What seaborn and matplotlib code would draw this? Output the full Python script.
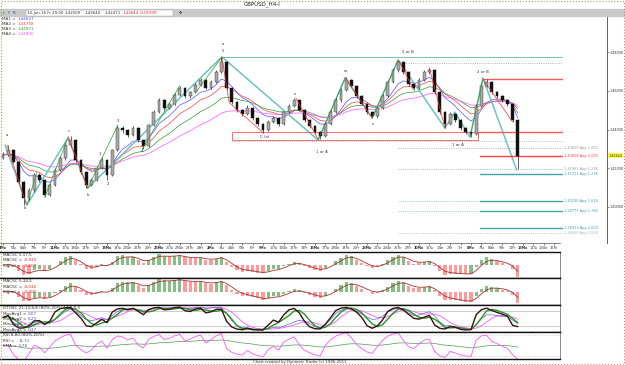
#%%
import numpy as np
import pandas as pd
import matplotlib
matplotlib.use("Agg")
import matplotlib.pyplot as plt
import matplotlib.transforms as mtrans
from matplotlib.patches import Rectangle
import seaborn as sns

#%% price bars (two bars per trading day)
first_open = 1.4255
closes = [1.4269, 1.4295, 1.4233, 1.4130, 1.4047, 1.4088, 1.4165, 1.4140, 1.4062, 1.4114,
          1.4191, 1.4253, 1.4320, 1.4346, 1.4243, 1.4181, 1.4114, 1.4140, 1.4202, 1.4243,
          1.4165, 1.4295, 1.4408, 1.4398, 1.4372, 1.4408, 1.4346, 1.4315, 1.4424, 1.4491,
          1.4553, 1.4512, 1.4532, 1.4579, 1.4615, 1.4574, 1.4594, 1.4631, 1.4657, 1.4615,
          1.4646, 1.4698, 1.4750, 1.4615, 1.4543, 1.4501, 1.4481, 1.4512, 1.4460, 1.4429,
          1.4398, 1.4439, 1.4460, 1.4429, 1.4491, 1.4522, 1.4553, 1.4501, 1.4450, 1.4419,
          1.4388, 1.4367, 1.4429, 1.4491, 1.4553, 1.4605, 1.4657, 1.4626, 1.4574, 1.4532,
          1.4491, 1.4470, 1.4512, 1.4574, 1.4646, 1.4708, 1.4750, 1.4698, 1.4636, 1.4615,
          1.4657, 1.4698, 1.4708, 1.4594, 1.4491, 1.4429, 1.4481, 1.4450, 1.4408, 1.4388,
          1.4377, 1.4522, 1.4626, 1.4646, 1.4594, 1.4574, 1.4553, 1.4532, 1.4450, 1.4264]
highs = [1.4285, 1.4318, 1.4300, 1.4240, 1.4135, 1.4098, 1.4178, 1.4175, 1.4146, 1.4122,
         1.4200, 1.4262, 1.4335, 1.4365, 1.4352, 1.4250, 1.4186, 1.4152, 1.4210, 1.4256,
         1.4248, 1.4302, 1.4425, 1.4420, 1.4405, 1.4418, 1.4412, 1.4352, 1.4430, 1.4500,
         1.4565, 1.4560, 1.4542, 1.4588, 1.4628, 1.4620, 1.4602, 1.4640, 1.4668, 1.4662,
         1.4655, 1.4710, 1.4776, 1.4755, 1.4620, 1.4550, 1.4508, 1.4525, 1.4518, 1.4465,
         1.4435, 1.4448, 1.4470, 1.4466, 1.4498, 1.4530, 1.4565, 1.4560, 1.4508, 1.4456,
         1.4425, 1.4395, 1.4438, 1.4500, 1.4562, 1.4615, 1.4672, 1.4663, 1.4632, 1.4580,
         1.4538, 1.4498, 1.4520, 1.4582, 1.4655, 1.4718, 1.4762, 1.4756, 1.4704, 1.4642,
         1.4665, 1.4706, 1.4720, 1.4712, 1.4600, 1.4496, 1.4490, 1.4488, 1.4456, 1.4415,
         1.4395, 1.4530, 1.4640, 1.4662, 1.4652, 1.4600, 1.4580, 1.4560, 1.4538, 1.4456]
lows = [1.4250, 1.4262, 1.4225, 1.4120, 1.4010, 1.4035, 1.4080, 1.4128, 1.4050, 1.4055,
        1.4108, 1.4185, 1.4245, 1.4310, 1.4235, 1.4172, 1.4098, 1.4106, 1.4134, 1.4195,
        1.4140, 1.4160, 1.4290, 1.4385, 1.4360, 1.4365, 1.4338, 1.4300, 1.4310, 1.4418,
        1.4485, 1.4503, 1.4505, 1.4525, 1.4572, 1.4565, 1.4566, 1.4588, 1.4625, 1.4608,
        1.4610, 1.4640, 1.4692, 1.4605, 1.4532, 1.4490, 1.4470, 1.4475, 1.4452, 1.4418,
        1.4385, 1.4392, 1.4432, 1.4420, 1.4422, 1.4485, 1.4515, 1.4495, 1.4442, 1.4410,
        1.4378, 1.4350, 1.4360, 1.4422, 1.4485, 1.4545, 1.4598, 1.4618, 1.4566, 1.4525,
        1.4482, 1.4458, 1.4462, 1.4505, 1.4568, 1.4640, 1.4700, 1.4690, 1.4628, 1.4605,
        1.4608, 1.4650, 1.4690, 1.4585, 1.4482, 1.4408, 1.4422, 1.4442, 1.4400, 1.4378,
        1.4361, 1.4370, 1.4515, 1.4618, 1.4585, 1.4565, 1.4545, 1.4522, 1.4440, 1.4196]

# trading days on the date scale (Apr 4 .. Jun 16)
day_numbers = [4, 5, 6, 7, 8, 11, 12, 13, 14, 15, 18, 19, 20, 21, 22, 25, 26, 27, 28, 29,
               2, 3, 4, 5, 6, 9, 10, 11, 12, 13, 16, 17, 18, 19, 20, 23, 24, 25, 26, 27,
               30, 31, 1, 2, 3, 6, 7, 8, 9, 10, 13, 14, 15, 16]
weekday_names = ["Mo", "Tu", "We", "Th", "Fr"]

# wave drawings (bar index, price)
teal_x = [0.4, 4.6, 12.5, 16.3, 42.1, 60.6, 65.8, 71.0, 76.0, 85.0, 86.9, 89.8, 92.3, 98.8]
teal_y = [1.4320, 1.4010, 1.4357, 1.4098, 1.4776, 1.4346, 1.4667, 1.4460, 1.4760, 1.4408,
          1.4491, 1.4362, 1.4667, 1.4191]
red_x = [0.8, 4.4, np.nan, 12.5, 16.3, np.nan, 42.1, 43.5, 50.0, np.nan, 56.3, 60.6, np.nan,
         65.8, 71.0, np.nan, 76.0, 79.0, np.nan, 82.0, 85.0, np.nan, 92.3, 98.0]
red_y = [1.4318, 1.4020, np.nan, 1.4365, 1.4098, np.nan, 1.4776, 1.4540, 1.4385, np.nan,
         1.4565, 1.4350, np.nan, 1.4672, 1.4458, np.nan, 1.4762, 1.4605, np.nan, 1.4720,
         1.4408, np.nan, 1.4662, 1.4440]
green_x = [4.6, 6.5, np.nan, 8.0, 12.5, np.nan, 16.3, 22.1, np.nan, 26.8, 34.0, np.nan,
           37.0, 42.1, np.nan, 60.6, 65.8, np.nan, 71.0, 76.0, np.nan, 89.8, 92.3]
green_y = [1.4010, 1.4178, np.nan, 1.4050, 1.4357, np.nan, 1.4098, 1.4425, np.nan, 1.4300,
           1.4628, np.nan, 1.4590, 1.4776, np.nan, 1.4346, 1.4667, np.nan, 1.4460, 1.4760,
           np.nan, 1.4361, 1.4662]

wave_text = ["a", "b", "c", "b", "1", "2", "3", "4", "a", "5", "C (a)", "x", "1 or A", "w",
             "x", "2 or B", "1 or A", "2 or B"]
wave_text_x = [0.8, 4.2, 12.6, 16.4, 18.7, 20.2, 22.1, 26.7, 42.3, 42.3, 50.4, 56.2, 61.3,
               65.8, 71.2, 77.9, 87.5, 92.3]
wave_text_y = [1.4372, 1.3995, 1.4392, 1.4060, 1.4272, 1.4118, 1.4445, 1.4292, 1.4845,
               1.4808, 1.4362, 1.4585, 1.4282, 1.4705, 1.4430, 1.4803, 1.4318, 1.4700]

# projection levels: price, start bar, colour, style, label
proj_price = [1.4776, 1.4743, 1.4660, 1.4388, 1.4341, 1.43050, 1.42658, 1.41961, 1.41713,
              1.40290, 1.40290, 1.39771, 1.39771, 1.38913, 1.38660]
proj_start = [42.1, 75.4, 92.3, 91.3, 44.0, 76.0, 91.7, 76.0, 91.7, 76.0, 91.7, 76.0, 91.7,
              91.7, 76.0]
proj_color = ["#5fb5b5", "#9a9a9a", "#ff5a5a", "#ff5a5a", "#8fb8b8", "#9a9a9a", "#ff4040",
              "#9a9a9a", "#3fa5a5", "#6fb8b8", "#3fa5a5", "#6fb8b8", "#3fa5a5", "#3fa5a5",
              "#9ab8b8"]
proj_style = ["-", ":", "-", "-", ":", ":", "-", ":", "-", ":", "-", ":", "-", "-", ":"]
proj_label = ["", "", "", "", "", "1,43050 App 1,000", "1,42658 App 1,000", "1,41961 App 1,236",
              "1,41713 App 1,236", "", "1,40290 App 1,618", "", "1,39771 App 1,786",
              "1,38913 App 2,000", "1,38660 App 2,000"]

ma_spans = [7, 11, 18, 30]
ma_colors = ["#5050ff", "#ff4040", "#2f9a2f", "#ff55ff"]
ma_values = ["1,44627", "1,44758", "1,44971", "1,44906"]
last_price = 1.42644

#%% helpers
W, H = 625, 365
def box(x0, y0, x1, y1):
    return [x0 / W, 1 - y1 / H, (x1 - x0) / W, (y1 - y0) / H]

px_bar = 5.2
def bar_at(px):
    return (px - 3) / px_bar

def price_at(py):
    return 1.40 + (207 - py) * 0.000517

sns.set_theme(style="white")
plt.rcParams["font.family"] = ["DejaVu Sans"]
fs = 3.0

c = pd.Series(closes)
o = pd.Series([first_open] + closes[:-1])
hi = pd.Series(highs)
lo = pd.Series(lows)
x = np.arange(len(closes))

fig = plt.figure(figsize=(6.25, 3.65), dpi=100)
fig.patch.set_facecolor("white")

# title bar and info row
fig.text(262 / W, 1 - 4.5 / H, "GBPUSD_H4-I", fontsize=4, ha="center", va="center", color="#202020")
fig.patches.append(Rectangle((0, 1 - 16 / H), 1, 7 / H, transform=fig.transFigure,
                             color="#c9c9c9", zorder=0))
fig.patches.append(Rectangle((26 / W, 1 - 15.5 / H), 147 / W, 5.5 / H, transform=fig.transFigure,
                             facecolor="white", edgecolor="#999999", lw=0.3, zorder=1))
info = [(3, "L", "#208020"), (8, "F", "#208020"), (13, "R", "#2040c0"),
        (27, "10-Jun-16 Fr 20:00", "#303030"), (65, "1,42509", "#303030"),
        (85, "1,43644", "#303030"), (105, "1,42471", "#303030"),
        (123, "1,42644", "#e02020"), (140, "-0,01939", "#e02020"), (179, "✥", "#202020")]
for px, t, col in info:
    fig.text(px / W, 1 - 12.8 / H, t, fontsize=2.8, color=col, va="center", zorder=3)

#%% main price panel
ax = fig.add_axes(box(0, 16, 607, 243))
xl = bar_at(0)
ax.set_xlim(xl, bar_at(607))
ax.set_ylim(price_at(243), price_at(16))

for span, col in zip(ma_spans, ma_colors):
    sns.lineplot(x=x, y=c.ewm(span=span, adjust=False).mean(), ax=ax, color=col, lw=0.5)

up = (c >= o).values
ax.vlines(x, lo, hi, color="#222222", lw=0.5, zorder=3)
ax.bar(x[up], (c - o)[up], bottom=o[up], width=0.55, color="#a9a9a9",
       edgecolor="#333333", lw=0.3, zorder=4)
ax.bar(x[~up], (c - o)[~up], bottom=o[~up], width=0.55, color="#111111",
       edgecolor="#111111", lw=0.3, zorder=4)

ax.plot(teal_x, teal_y, color="#6cc3c3", lw=1.1, zorder=2)
ax.plot(red_x, red_y, color="#ff3030", lw=0.5, zorder=5)
ax.plot(green_x, green_y, color="#30a030", lw=0.5, zorder=5)

xend = bar_at(562)
for p, s, col, ls, lab in zip(proj_price, proj_start, proj_color, proj_style, proj_label):
    lw = 1.0 if (ls == "-" and s > 90) else 0.6
    ax.plot([s, xend], [p, p], color=col, ls=ls, lw=lw, zorder=2)
    if lab:
        ax.text(xend + 0.3, p, lab, fontsize=2.5, color=col, va="center")

ax.add_patch(Rectangle((bar_at(232), price_at(140)), bar_at(478) - bar_at(232),
                       price_at(132) - price_at(140), fill=False, ec="#ff5050", lw=0.6, zorder=2))

for t, tx, ty in zip(wave_text, wave_text_x, wave_text_y):
    ax.text(tx, ty, t, fontsize=2.8, color="#303050", ha="center", va="center", zorder=6)

for k, (v, col) in enumerate(zip(ma_values, ma_colors)):
    yy = 1 - (3 + 5 * k) / 227
    ax.text(2 / 607, yy, f"MA{k + 1} =", transform=ax.transAxes, fontsize=fs, color="#303030", va="center")
    ax.text(18 / 607, yy, v, transform=ax.transAxes, fontsize=fs, color=col, va="center")

ax.yaxis.tick_right()
ticks = [1.40, 1.42, 1.44, 1.46, 1.48]
ax.set_yticks(ticks)
ax.set_yticklabels([f"{t:.5f}".replace(".", ",") for t in ticks])
ax.tick_params(axis="y", right=True, direction="out", length=1.2, width=0.4,
               labelsize=2.4, pad=0.6, colors="#333333")
ax.set_xticks([])
for s in ["left", "top", "bottom"]:
    ax.spines[s].set_visible(False)
ax.spines["right"].set_color("#6a6050")
ax.spines["right"].set_linewidth(0.7)
trans = mtrans.blended_transform_factory(ax.transAxes, ax.transData)
ax.text(1.002, last_price, "1,42644", transform=trans, fontsize=2.4, va="center",
        bbox=dict(boxstyle="square,pad=0.15", fc="#ffff40", ec="none"), zorder=7)

#%% date scale
xr = bar_at(560)
axd = fig.add_axes(box(0, 243, 560, 252))
axd.set_xlim(xl, xr)
axd.set_ylim(0, 1)
day_pos = [2 * k for k in range(len(day_numbers))]
axd.set_xticks(day_pos)
axd.set_xticklabels([])
axd.tick_params(axis="x", top=True, bottom=False, direction="in", length=1.5, width=0.4)
axd.set_yticks([])
for k, (dpos, dn) in enumerate(zip(day_pos, day_numbers)):
    wd = weekday_names[k % 5]
    axd.text(dpos, 0.4, f"{dn}{wd}", fontsize=2.4, ha="center", va="center",
             fontweight="bold" if wd == "Mo" else "normal", color="#303030")
for s in ["left", "right", "bottom"]:
    axd.spines[s].set_visible(False)
axd.spines["top"].set_linewidth(0.5)
axd.spines["top"].set_color("#555555")
axd.patch.set_alpha(0)

#%% indicator panels
def panel(y0, y1):
    a = fig.add_axes(box(0, y0, 560, y1))
    a.set_xlim(xl, xr)
    a.set_xticks([])
    a.set_yticks([])
    a.spines["left"].set_visible(False)
    for s in ["top", "bottom"]:
        a.spines[s].set_color("#111111")
        a.spines[s].set_linewidth(1.0)
    a.spines["right"].set_color("#777777")
    a.spines["right"].set_linewidth(0.6)
    return a

def header(a, lines):
    for k, parts in enumerate(lines):
        for px, t, col in parts:
            a.text(px / 560, 0.88 - k * 0.2, t, transform=a.transAxes, fontsize=fs,
                   color=col, va="center")

def ema(s, n):
    return s.ewm(span=n, adjust=False).mean()

def macd_panel(a, fast, slow, sig):
    m = ema(c, fast) - ema(c, slow)
    sg = ema(m, sig)
    cols = np.where(m >= sg, "#86bf86", "#ff9a9a")
    a.bar(x, m, width=0.6, color=cols, lw=0)
    sns.lineplot(x=x, y=sg, ax=a, color="#a83030", lw=0.6)
    lim = np.abs(m).max() * 1.1
    a.set_ylim(-lim, lim)

a1 = panel(252, 278)
macd_panel(a1, 3, 9, 3)
header(a1, [[(3, "MACSC 5,17,5", "#303030")],
            [(3, "MACSC =", "#303030"), (24, "-0,930", "#e02020")],
            [(3, "Signal =", "#303030"), (24, "-0,607", "#e02020")]])

a2 = panel(278, 305)
macd_panel(a2, 3, 14, 3)
header(a2, [[(3, "MACSC 5,34,5", "#303030")],
            [(3, "MACSC =", "#303030"), (24, "-0,032", "#e02020")],
            [(3, "Signal =", "#303030"), (24, "-0,006", "#e02020")]])

# DT oscillator (stochastic)
a3 = panel(305, 332)
def stoch(n):
    ll = lo.rolling(n, min_periods=1).min()
    hh = hi.rolling(n, min_periods=1).max()
    return 100 * (c - ll) / (hh - ll)
fast_k = ema(stoch(7), 2)
slow_k = fast_k.rolling(3, min_periods=1).mean()
long_k = ema(stoch(14), 3)
long_d = long_k.rolling(4, min_periods=1).mean()
a3.axhline(80, color="#c4c4c4", lw=0.6)
a3.axhline(20, color="#c4c4c4", lw=0.6)
sns.lineplot(x=x, y=long_d, ax=a3, color="#ff55ff", lw=0.6)
sns.lineplot(x=x, y=long_k, ax=a3, color="#6060d0", lw=0.5)
sns.lineplot(x=x, y=slow_k, ax=a3, color="#1f9a1f", lw=1.0)
sns.lineplot(x=x, y=fast_k, ax=a3, color="#3a1010", lw=1.0)
a3.set_ylim(-4, 104)
header(a3, [[(3, "DTOSC 21,13,8,8 (80%-20%) 14,8,5,3", "#303030")],
            [(3, "MovAvg1 =", "#303030"), (28, "0,07", "#5050c0")],
            [(3, "MovAvg2 =", "#303030"), (28, "6,29", "#5050c0")],
            [(3, "MovAvg3 =", "#303030"), (28, "1,13", "#5050c0")],
            [(3, "MovAvg4 =", "#303030"), (28, "0,37", "#5050c0")]])

# RSI
a4 = panel(332, 359)
d = c.diff().fillna(0)
gain = d.clip(lower=0).ewm(alpha=1 / 4, adjust=False).mean()
loss = (-d.clip(upper=0)).ewm(alpha=1 / 4, adjust=False).mean()
rsi = 100 - 100 / (1 + gain / loss.replace(0, np.nan))
rsi = rsi.fillna(50)
rsi_ema = ema(rsi, 30)
a4.axhline(80, color="#c8c8c8", lw=0.6, ls=":")
a4.axhline(20, color="#c8c8c8", lw=0.6, ls=":")
sns.lineplot(x=x, y=rsi_ema, ax=a4, color="#4f9a4f", lw=0.5)
sns.lineplot(x=x, y=rsi, ax=a4, color="#ff55ff", lw=0.6)
a4.set_ylim(11, 89)
header(a4, [[(3, "RSI 8,80 (80%-20%)", "#303030")],
            [(3, "RSI =", "#303030"), (19, "11,11", "#5050c0")],
            [(3, "EMA =", "#303030"), (19, "6,78", "#5050c0")]])

for a in [a1, a2, a3, a4]:
    a.set_xlabel("")
    a.set_ylabel("")
ax.set_xlabel("")
ax.set_ylabel("")

fig.text(300 / W, 1 - 361.5 / H, "Chart created by Dynamic Trader (c) 1996-2011", fontsize=2.8,
         ha="center", va="center", color="#303030")
fig.patches.append(Rectangle((0.001, 0.002), 0.997, 0.996, transform=fig.transFigure, fill=False,
                             ls=":", ec="#a89a60", lw=0.8))

fig.savefig("out.png", dpi=100)
